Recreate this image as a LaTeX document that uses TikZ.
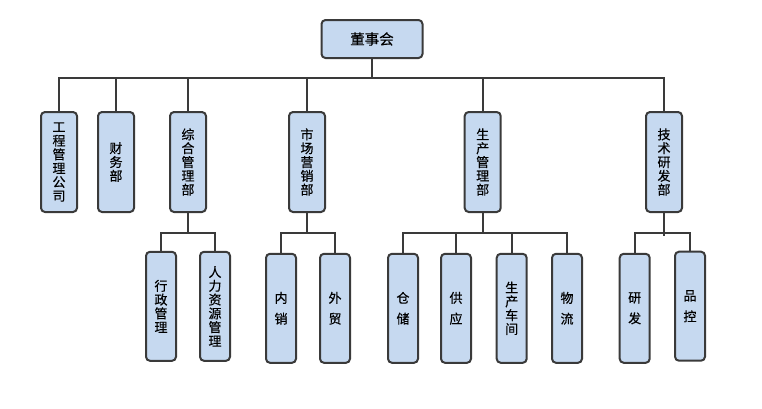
\documentclass[tikz,border=0pt]{standalone}
\usepackage{fontspec}
\newfontfamily\cjk[FakeBold=0.4]{Noto Sans CJK SC}
\definecolor{boxfill}{RGB}{198,217,240}
\definecolor{boxline}{RGB}{58,58,58}
\tikzset{
  box/.style={draw=boxline, fill=boxfill, line width=2pt, rounded corners=4pt,
    inner sep=0pt, align=center, font=\cjk\fontsize{13pt}{13.8pt}\selectfont},
  board/.style={box, minimum width=101pt, minimum height=38pt, font=\cjk\fontsize{14.5pt}{16pt}\selectfont},
  dept/.style={box, minimum width=36pt, minimum height=100pt},
  unit/.style={box, minimum width=30pt, minimum height=109pt},
  link/.style={draw=boxline, line width=2pt}
}
\begin{document}
\begin{tikzpicture}[x=1pt,y=-1pt]
    \useasboundingbox (0,0) rectangle (762,408);
    \node[board] (board) at (372,39) {董事会};

    \node[dept] (eng)  at (59,162)    {工\\程\\管\\理\\公\\司};
    \node[dept] (fin)  at (116,162)   {财\\务\\部};
    \node[dept] (gen)  at (188,162)   {综\\合\\管\\理\\部};
    \node[dept] (mkt)  at (307,162)   {市\\场\\营\\销\\部};
    \node[dept] (prod) at (482.7,162) {生\\产\\管\\理\\部};
    \node[dept] (tech) at (664,162)   {技\\术\\研\\发\\部};

    \node[unit] (adm) at (161,306.3)   {行\\政\\管\\理};
    \node[unit] (hr)  at (215,306.3)   {人\\力\\资\\源\\管\\理};
    \node[unit] (dom) at (281,308.3)   {内\\[7pt]销};
    \node[unit] (frn) at (335,308.3)   {外\\[7pt]贸};
    \node[unit] (sto) at (403,308.3)   {仓\\[7pt]储};
    \node[unit] (sup) at (456,308.3)   {供\\[7pt]应};
    \node[unit] (wks) at (511.7,308.3) {生\\产\\车\\间};
    \node[unit] (log) at (567,308.3)   {物\\[7pt]流};
    \node[unit] (rd)  at (634.7,308.3) {研\\[7pt]发};
    \node[unit] (qc)  at (690,306.2)   {品\\[7pt]控};

    \coordinate (bus1) at (0,78);
    \coordinate (bus2) at (0,233);

    \foreach \d in {eng,fin,gen,mkt,prod,tech}
        \draw[link] (board.south) |- (\d.north |- bus1) -- (\d.north);

    \foreach \p/\c in {gen/adm,gen/hr,mkt/dom,mkt/frn,prod/sto,prod/sup,prod/wks,prod/log,tech/rd,tech/qc}
        \draw[link] (\p.south) |- (\c.north |- bus2) -- (\c.north);
    \draw[link] (tech.south) -- ([yshift=-3pt]tech.south |- bus2);
\end{tikzpicture}
\end{document}
